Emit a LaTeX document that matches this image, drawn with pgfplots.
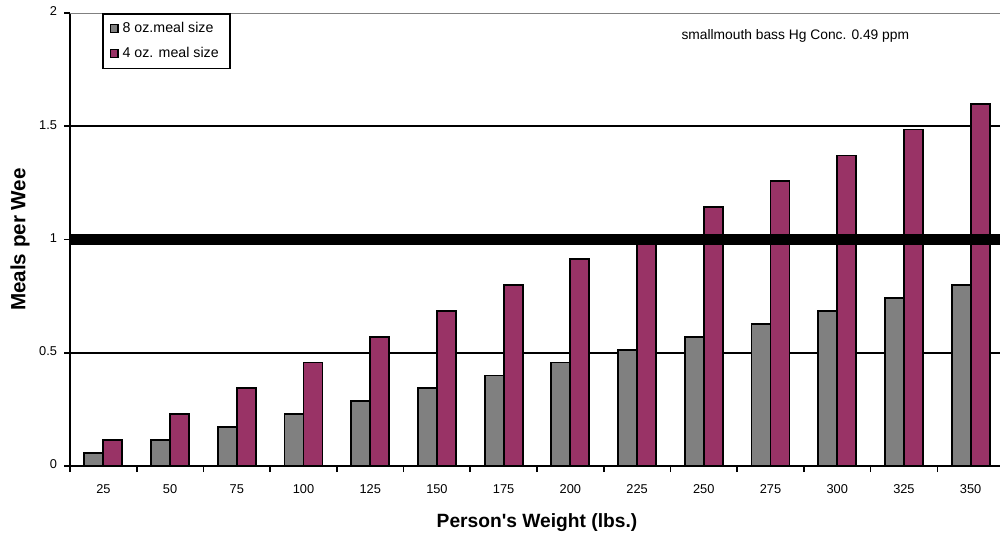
\documentclass[border=0pt]{standalone}
\usepackage{fontspec}
\setmainfont{Liberation Sans}
\usepackage{pgfplots}
\pgfplotsset{compat=1.18}
\definecolor{barGray}{HTML}{808080}
\definecolor{barPlum}{HTML}{993366}
\begin{document}
\begin{tikzpicture}
\begin{axis}[
  scale only axis, width=466.9pt, height=226.5pt,
  xmin=-0.5, xmax=13.5, ymin=0, ymax=2,
  axis x line=bottom, axis y line=left,
  axis line style={line width=1.1pt,-},
  xtick={-0.5,0.5,1.5,2.5,3.5,4.5,5.5,6.5,7.5,8.5,9.5,10.5,11.5,12.5,13.5},
  xticklabels={25,50,75,100,125,150,175,200,225,250,275,300,325,350},
  x tick label as interval,
  typeset ticklabels with strut,
  xticklabel style={yshift=-2.5pt},
  ytick={0,0.5,1,1.5,2},
  yticklabels={0,0.5,1,1.5,2},
  tick align=outside, major tick length=3pt,
  tick style={line width=0.8pt,black},
  ticklabel style={font=\fontsize{6.4}{7}\selectfont},
  /pgf/number format/assume math mode=true,
  ylabel={Meals per Wee},
  ylabel style={font=\bfseries\fontsize{10.3}{12}\selectfont, at={(axis description cs:-0.0535,0.5)}, anchor=center},
  xlabel={Person\textquotesingle s Weight (lbs.)},
  xlabel style={font=\bfseries\fontsize{9.6}{11}\selectfont, at={(axis description cs:0.5,0)}, yshift=-28pt, anchor=center},
  legend style={at={(axis description cs:0.0343,1)}, anchor=north west, draw=black, line width=0.8pt,
    font=\fontsize{7.1}{8.5}\selectfont, inner xsep=3.5pt, inner ysep=2pt, row sep=2pt},
  legend cell align=left,
  legend image code/.code={\draw[#1, line width=0.6pt] (0pt,-2pt) rectangle (3.8pt,2pt);},
  clip=false,
]
\coordinate (bl) at (rel axis cs:0,0);
\coordinate (tr) at (rel axis cs:1,1);
\addplot[forget plot, black, line width=0.9pt] coordinates {(-0.5,0.5) (13.5,0.5)};
\addplot[forget plot, black, line width=0.9pt] coordinates {(-0.5,1.5) (13.5,1.5)};
\addplot[forget plot, gray, line width=0.5pt] coordinates {(-0.5,2) (13.5,2)};
\addplot[ybar, bar width=9.5pt, bar shift=-4.75pt, fill=barGray, draw=black, line width=0.9pt] coordinates {
 (0,0.057) (1,0.114) (2,0.171) (3,0.229) (4,0.286) (5,0.343) (6,0.400)
 (7,0.457) (8,0.514) (9,0.571) (10,0.629) (11,0.686) (12,0.743) (13,0.800)};
\addplot[ybar, bar width=9.5pt, bar shift=4.75pt, fill=barPlum, draw=black, line width=0.9pt] coordinates {
 (0,0.114) (1,0.229) (2,0.343) (3,0.457) (4,0.571) (5,0.686) (6,0.800)
 (7,0.914) (8,1.020) (9,1.143) (10,1.257) (11,1.371) (12,1.486) (13,1.600)};
\addplot[forget plot, black, line width=5.5pt] coordinates {(-0.5,1) (13.5,1)};
\legend{8 oz.meal size, 4 oz. meal size}
\node[anchor=west, font=\fontsize{6.9}{8}\selectfont, inner sep=0pt] at (axis cs:8.66,1.898) {smallmouth bass Hg Conc. 0.49 ppm};
\end{axis}
\pgfresetboundingbox
\path ([xshift=-35pt,yshift=-38pt]bl) rectangle ([xshift=-2pt,yshift=6.5pt]tr);
\end{tikzpicture}
\end{document}
